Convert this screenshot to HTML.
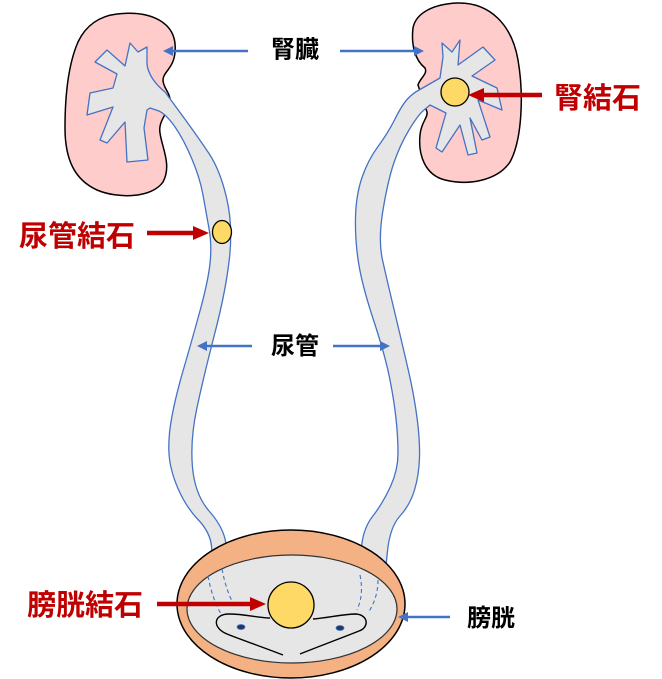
<!DOCTYPE html>
<html>
<head>
<meta charset="utf-8">
<style>
html,body{margin:0;padding:0;background:#fff;}
svg{display:block;}
text{font-family:"Liberation Sans","Noto Sans CJK JP",sans-serif;font-weight:700;}
</style>
</head>
<body>
<svg width="662" height="679" viewBox="0 0 662 679" xmlns="http://www.w3.org/2000/svg">
  <!-- Left kidney -->
  <path d="M117,14 C150,10 178,22 175,52 C174,68 163,72 163,80 C163,88 170,92 170,100 C168,115 158,120 160,133 C162,148 172,165 163,182 C152,198 118,199 97,190 C75,180 65,160 65,128 C65,95 68,65 78,42 C86,25 100,16 117,14 Z" fill="#FFCCCC" stroke="#000" stroke-width="1.5"/>
  <!-- Right kidney -->
  <path d="M457,3 C490,2 512,25 518,60 C524,95 522,140 510,162 C498,180 470,186 445,180 C425,175 418,155 420,135 C421,122 428,118 427,112 L418,85 C420,78 428,74 425,68 C415,60 411,45 413,28 C416,12 435,4 457,3 Z" fill="#FFCCCC" stroke="#000" stroke-width="1.5"/>

  <!-- Left sinus + ureter -->
  <path d="M147,47 L147,64 C148,74 155,84 165,92 L181.5,114.5 Q198,137 209,153.5 Q220,170 226.5,197.5 Q233,225 229.5,257.5 Q226,290 215,332.5 Q204,375 197,407.5 Q190,440 192.5,467.5 Q195,495 209.5,511.5 Q224,528 226,544 L228,575 L213,575 L211.5,546 Q210,532 198,519.5 Q186,507 178,488.5 Q170,470 169,453.5 Q168,437 172,416 Q176,395 183,371 Q190,347 199,314.5 Q208,282 210,263.5 Q212,245 209,228.5 Q206,212 203,195 Q200,178 191.5,158 Q183,138 174,125.5 Q165,113 157.5,110.5 L150,108 L147,110 L144,128 L148,160 L127,162 L125,122 L107,143 L100,140 L113,107 L87,115 L90,93 L113,88 L117,74 L95,62 L107,50 L125,66 L130,43 L138,52 Z" fill="#E6E6E6" stroke="#4472C4" stroke-width="1.3" stroke-linejoin="round"/>

  <!-- Right sinus + ureter -->
  <path d="M442,43 L452,52 L460,40 L458,65 L483,47 L495,60 L472,76 L497,88 L502,110 L478,100 L490,137 L482,140 L470,118 L477,153 L468,155 L460,125 L442,152 L436,148 L446,113 L430,105 L424,110 Q418,115 409,130 Q400,145 394,162.5 Q388,180 383,210 Q378,240 382.5,260 Q387,280 395,313.5 Q403,347 408.5,371 Q414,395 417,417.5 Q420,440 419.5,457.5 Q419,475 414.5,490 Q410,505 400,516 Q390,527 387.5,551 L385,575 L360,575 L361,552.5 Q362,530 372.5,516.5 Q383,503 390.5,486.5 Q398,470 398,453.5 Q398,437 396,418.5 Q394,400 389.5,377.5 Q385,355 373.5,320 Q362,285 358.5,262.5 Q355,240 355.5,217.5 Q356,195 362,177.5 Q368,160 378,146.5 Q388,133 395,119 Q402,105 407.5,99 Q413,93 420,89.5 L440,78 L443,57 Z" fill="#E6E6E6" stroke="#4472C4" stroke-width="1.3" stroke-linejoin="round"/>

  <!-- stones -->
  <circle cx="455" cy="92" r="14" fill="#FFD966" stroke="#000" stroke-width="1.3"/>
  <ellipse cx="222" cy="232" rx="9.5" ry="11.5" fill="#FFD966" stroke="#000" stroke-width="1.3"/>

  <!-- Bladder -->
  <ellipse cx="291" cy="604" rx="114" ry="74" fill="#F4B183" stroke="#000" stroke-width="1.5"/>
  <ellipse cx="292" cy="609" rx="105" ry="54" fill="#E6E6E6" stroke="#333" stroke-width="1.2"/>
  <!-- dashed lines -->
  <g fill="none" stroke="#4472C4" stroke-width="1.1" stroke-dasharray="4,3">
    <path d="M208,576 Q212,598 221,614"/>
    <path d="M222,569 Q226,590 233,603"/>
    <path d="M360,575 Q364,595 357,610"/>
    <path d="M378,580 Q378,598 368,613"/>
  </g>
  <!-- trigone -->
  <path d="M283,655 C265,648 242,640 227,634 C212,628 213,614 229,614 C245,614 258,618 270,618 M313,619 C328,618 343,614 356,614 C369,615 369,628 359,631 C344,637 320,646 300,654" fill="none" stroke="#000" stroke-width="1.4"/>
  <ellipse cx="241" cy="627" rx="4" ry="2.5" fill="#1F3864" stroke="#4472C4" stroke-width="0.8"/>
  <ellipse cx="340" cy="628" rx="4" ry="2.5" fill="#1F3864" stroke="#4472C4" stroke-width="0.8"/>
  <circle cx="291" cy="605" r="23" fill="#FFD966" stroke="#000" stroke-width="1.3"/>

  <!-- Blue arrows -->
  <g stroke="#4472C4" stroke-width="2.5">
    <line x1="248" y1="51" x2="171" y2="51"/>
    <line x1="340" y1="51" x2="416" y2="51"/>
    <line x1="252" y1="346" x2="205" y2="346"/>
    <line x1="333" y1="346" x2="382" y2="346"/>
    <line x1="450" y1="617" x2="406" y2="617"/>
  </g>
  <g fill="#4472C4">
    <polygon points="163,51 173,46 173,56"/>
    <polygon points="424,51 414,46 414,56"/>
    <polygon points="197,346 207,341 207,351"/>
    <polygon points="390,346 380,341 380,351"/>
    <polygon points="398,617 408,612 408,622"/>
  </g>

  <!-- Red arrows -->
  <g stroke="#C00000" stroke-width="4.5">
    <line x1="542" y1="95" x2="482" y2="95"/>
    <line x1="147" y1="233" x2="195" y2="233"/>
    <line x1="157" y1="604" x2="252" y2="604"/>
  </g>
  <g fill="#C00000">
    <polygon points="468,95 484,88 484,102"/>
    <polygon points="209,233 193,226 193,240"/>
    <polygon points="266,604 250,597 250,611"/>
  </g>

  <!-- Labels -->
  <text x="271" y="57.5" font-size="24" fill="#000">腎臓</text>
  <text x="271" y="354" font-size="24" fill="#000">尿管</text>
  <text x="467" y="626" font-size="24" fill="#000">膀胱</text>
  <text x="554" y="108" font-size="29" fill="#C00000">腎結石</text>
  <text x="19" y="246" font-size="29" fill="#C00000">尿管結石</text>
  <text x="27" y="615" font-size="29" fill="#C00000">膀胱結石</text>
</svg>
</body>
</html>
